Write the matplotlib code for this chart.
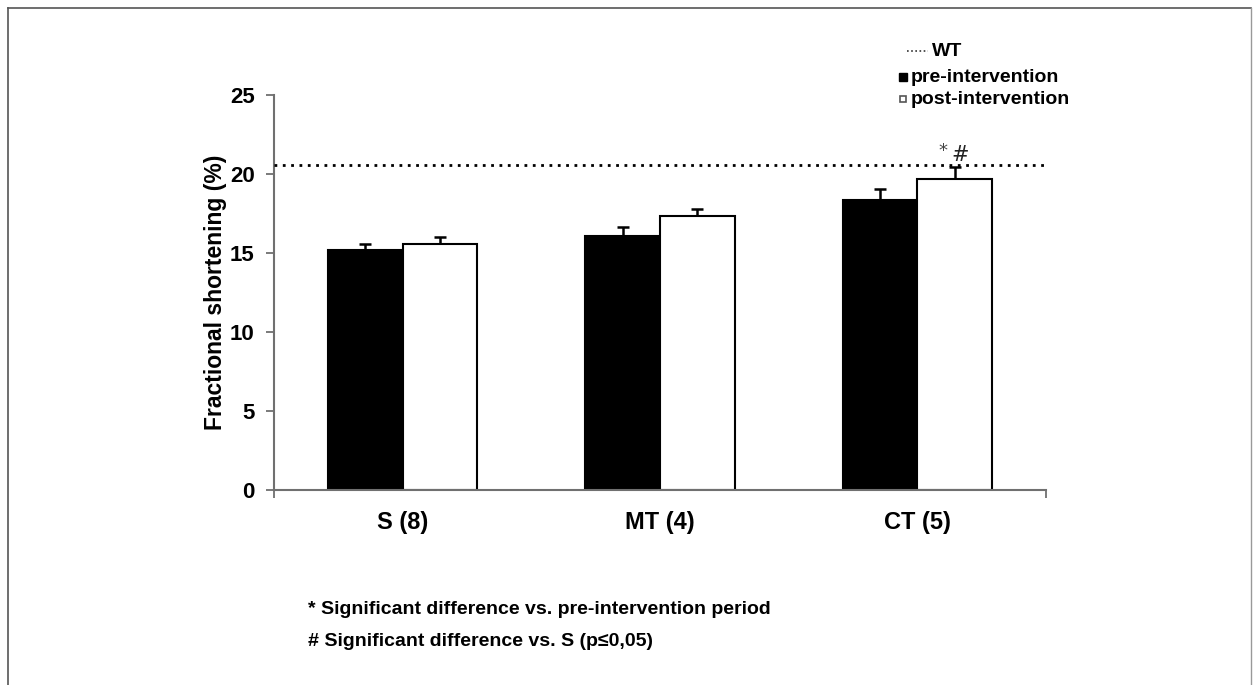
import matplotlib
matplotlib.use("Agg")
import matplotlib.pyplot as plt
import numpy as np
from matplotlib.lines import Line2D

categories = ["S (8)", "MT (4)", "CT (5)"]
pre_values = [15.2, 16.1, 18.35]
pre_errors = [0.37, 0.55, 0.72]
post_values = [15.55, 17.35, 19.7]
post_errors = [0.47, 0.45, 0.75]
wt_value = 20.6
y_ticks = [0, 5, 10, 15, 20, 25]
footnotes = ["* Significant difference vs. pre-intervention period",
             "# Significant difference vs. S (p\u22640,05)"]

plt.rcParams['font.family'] = ['Liberation Sans', 'DejaVu Sans']

fig = plt.figure(figsize=(12.58, 6.85), dpi=100)
ax = fig.add_axes([274/1258, 1-490/685, (1046-274)/1258, (490-95)/685])

x = np.arange(len(categories))
w = 0.29
axis_col = "#707070"
ax.bar(x - w/2, pre_values, w, color="black", edgecolor="black", linewidth=1.5, zorder=2)
ax.bar(x + w/2, post_values, w, color="white", edgecolor="black", linewidth=1.5, zorder=2)
ax.errorbar(x - w/2, pre_values, yerr=[np.zeros(3), pre_errors], fmt="none",
            ecolor="black", elinewidth=1.8, capsize=4.5, capthick=1.8, zorder=1)
ax.errorbar(x + w/2, post_values, yerr=[np.zeros(3), post_errors], fmt="none",
            ecolor="black", elinewidth=1.8, capsize=4.5, capthick=1.8, zorder=1)

ax.axhline(wt_value, color="black", linestyle=(0, (1, 2)), linewidth=2.0, zorder=3)

ax.text(x[2] + w/2 - 0.045, 21.45, "*", fontsize=13, ha="center", va="center",
        family="DejaVu Sans", color="#444444")
ax.text(x[2] + w/2 + 0.02, 21.2, "#", fontsize=15, ha="center", va="center",
        family="DejaVu Sans", color="#222222")

ax.set_xlim(-0.5, 2.5)
ax.set_ylim(0, 25)
ax.set_yticks(y_ticks)
ax.set_yticklabels([str(t) for t in y_ticks], fontsize=16, fontweight="bold")
ax.set_xticks(x)
ax.set_xticklabels(categories, fontsize=17, fontweight="bold")
ax.tick_params(axis="x", length=0, pad=15)
ax.tick_params(axis="y", length=6, width=1.3, color=axis_col, pad=8)
ax.set_xticks([-0.5, 2.5], minor=True)
ax.tick_params(axis="x", which="minor", length=6, width=1.3, color=axis_col)
for s in ["top", "right"]:
    ax.spines[s].set_visible(False)
for s in ["left", "bottom"]:
    ax.spines[s].set_color(axis_col)
    ax.spines[s].set_linewidth(1.5)
ax.set_ylabel("Fractional shortening (%)", fontsize=16.5, fontweight="bold", labelpad=2)

# legend (manual)
fig.add_artist(Line2D([907/1258, 928/1258], [1-51/685, 1-51/685], color="#333333",
                      linestyle=(0, (1, 1.5)), linewidth=1.2))
fig.text(932/1258, 1-52/685, "WT", fontsize=14, fontweight="bold", va="center")
fig.add_artist(Line2D([903/1258], [1-77/685], marker="s", markersize=6,
                      color="black", linestyle="none"))
fig.text(911/1258, 1-77/685, "pre-intervention", fontsize=14, fontweight="bold", va="center")
fig.add_artist(Line2D([903/1258], [1-99/685], marker="s", markersize=5,
                      markerfacecolor="white", markeredgecolor="#555555",
                      markeredgewidth=1.2, linestyle="none"))
fig.text(911/1258, 1-99/685, "post-intervention", fontsize=14, fontweight="bold", va="center")

fig.text(308/1258, 1-610/685, footnotes[0], fontsize=14, fontweight="bold", va="center")
fig.text(308/1258, 1-642/685, footnotes[1], fontsize=14, fontweight="bold", va="center")

# frame
fc = "#555555"
fig.add_artist(Line2D([8/1258, 1251/1258], [1-8/685, 1-8/685], color=fc, linewidth=1.2))
fig.add_artist(Line2D([8/1258, 8/1258], [1-8/685, 0], color=fc, linewidth=1.2))
fig.add_artist(Line2D([1251/1258, 1251/1258], [1-8/685, 0], color="#999999", linewidth=1.0))

fig.savefig("out.png", dpi=100)
